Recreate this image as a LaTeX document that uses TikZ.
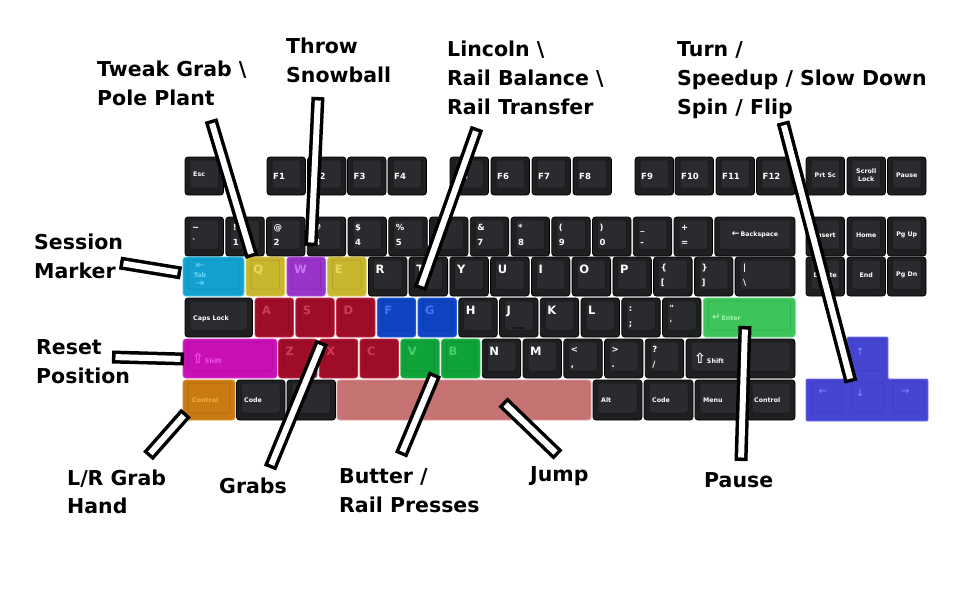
\documentclass[tikz,border=0pt]{standalone}
\usepackage{fontspec}
\setmainfont{DejaVu Sans}
\newfontfamily\arrowfont{DejaVu Sans}
\definecolor{kdark}{HTML}{1E1F21}
\definecolor{kface}{HTML}{2A2B2E}
\definecolor{kfl}{HTML}{161718}
\definecolor{kCya}{HTML}{14A1D0}\definecolor{kCyaE}{HTML}{3CCBF2}\definecolor{kCyaF}{HTML}{0F88B0}\definecolor{kCyaT}{HTML}{6AD8FA}
\definecolor{kYel}{HTML}{C9B62F}\definecolor{kYelE}{HTML}{DCCB4C}\definecolor{kYelF}{HTML}{A89820}\definecolor{kYelT}{HTML}{E8D860}
\definecolor{kPur}{HTML}{9A33C9}\definecolor{kPurE}{HTML}{B458E2}\definecolor{kPurF}{HTML}{7F25A8}\definecolor{kPurT}{HTML}{C676F0}
\definecolor{kRed}{HTML}{A00D29}\definecolor{kRedE}{HTML}{C23049}\definecolor{kRedF}{HTML}{850920}\definecolor{kRedT}{HTML}{CE3C55}
\definecolor{kBlu}{HTML}{0E44C2}\definecolor{kBluE}{HTML}{2E63E0}\definecolor{kBluF}{HTML}{0A36A0}\definecolor{kBluT}{HTML}{4276EC}
\definecolor{kGrn}{HTML}{0FA33A}\definecolor{kGrnE}{HTML}{2CC055}\definecolor{kGrnF}{HTML}{0B8A30}\definecolor{kGrnT}{HTML}{4ACE70}
\definecolor{kEnt}{HTML}{3DC45A}\definecolor{kEntE}{HTML}{62E07A}\definecolor{kEntF}{HTML}{30A84C}\definecolor{kEntT}{HTML}{9EF4AC}
\definecolor{kMag}{HTML}{C810B6}\definecolor{kMagE}{HTML}{DD3AD0}\definecolor{kMagF}{HTML}{A80C99}\definecolor{kMagT}{HTML}{F450EC}
\definecolor{kOra}{HTML}{C97A12}\definecolor{kOraE}{HTML}{E0962C}\definecolor{kOraF}{HTML}{A8650E}\definecolor{kOraT}{HTML}{F4AE42}
\definecolor{kSpc}{HTML}{C47272}\definecolor{kSpcE}{HTML}{E89A9A}\definecolor{kSpcF}{HTML}{C47272}
\definecolor{kArr}{HTML}{4545D2}\definecolor{kArrE}{HTML}{7272FF}\definecolor{kArrF}{HTML}{3838B8}\definecolor{kArrT}{HTML}{8C8CFF}
\newcommand\kbscheme[4]{\tikzset{body#1/.style={fill=#2,draw=#3,line width=0.8pt,rounded corners=3pt},
  face#1/.style={fill=#2,draw=#4,line width=0.5pt,rounded corners=2pt}}}
\tikzset{
  bodyD/.style={fill=kdark,draw=black,line width=0.8pt,rounded corners=3pt},
  faceD/.style={fill=kface,draw=kfl,line width=0.5pt,rounded corners=2pt},
  klab/.style={anchor=base west,inner sep=0pt,text=white},
  fL/.style={font=\bfseries\fontsize{11.5}{12}\selectfont},
  fN/.style={font=\bfseries\fontsize{8.5}{9}\selectfont},
  fS/.style={font=\bfseries\fontsize{6.3}{7.3}\selectfont},
  fA/.style={font=\arrowfont\fontsize{10}{10}\selectfont},
  big/.style={anchor=base west,inner sep=0pt,font=\bfseries\fontsize{20.5}{24}\selectfont},
  barout/.style={line width=13pt,black},
  barin/.style={line width=6pt,white,shorten <=3.5pt,shorten >=3.5pt}
}
\kbscheme{Cya}{kCya}{kCyaE}{kCyaF}
\kbscheme{Yel}{kYel}{kYelE}{kYelF}
\kbscheme{Pur}{kPur}{kPurE}{kPurF}
\kbscheme{Red}{kRed}{kRedE}{kRedF}
\kbscheme{Blu}{kBlu}{kBluE}{kBluF}
\kbscheme{Grn}{kGrn}{kGrnE}{kGrnF}
\kbscheme{Ent}{kEnt}{kEntE}{kEntF}
\kbscheme{Mag}{kMag}{kMagE}{kMagF}
\kbscheme{Ora}{kOra}{kOraE}{kOraF}
\kbscheme{Spc}{kSpc}{kSpcE}{kSpcF}
\kbscheme{Arr}{kArr}{kArrE}{kArrF}
\newcount\kcnt
\newcommand\lab[4][]{\global\advance\kcnt by 1\relax
  \edef\knm{kl\the\kcnt}\node[klab,#1] (\knm) at (#2,#3) {#4};}
\newcommand\kw[5]{\path[body#5] (#1,#2) rectangle ++(#3,#4);
  \path[face#5] ({#1+5},{#2+3}) rectangle ++({#3-10},{#4-10});}
\newcommand\fkey[2]{\kw{#1}{157}{38.5}{38}{D}\lab[fN]{#1+6}{179}{#2}}
\newcommand\nkey[3]{\kw{#1}{217}{38.5}{39}{D}\lab[fN]{#1+7}{230}{#2}\lab[fN]{#1+7}{245}{#3}}
\newcommand\skey[4]{\kw{#1}{#2}{38.5}{39}{D}\lab[fN]{#1+7}{#2+13}{#3}\lab[fN]{#1+7}{#2+28}{#4}}
\newcommand\lkey[5]{\kw{#1}{#2}{38.5}{39}{#4}\lab[fL,text=#5]{#1+7}{#2+16}{#3}}
\newcommand\ckey[3]{\kw{#1}{#2}{38.5}{39}{D}\lab[fS,anchor=center]{#1+19.25}{#2+18}{#3}}
\begin{document}
\begin{tikzpicture}[x=1pt,y=-1pt]
\useasboundingbox[fill=white] (0,0) rectangle (969,611);
% ---------- function row
\kw{185}{157}{38.5}{38}{D}\lab[fS]{193}{176}{Esc}
\fkey{267}{F1}\fkey{307.5}{F2}\fkey{347.5}{F3}\fkey{388}{F4}
\fkey{450}{F5}\fkey{491}{F6}\fkey{532}{F7}\fkey{573}{F8}
\fkey{635}{F9}\fkey{675}{F10}\fkey{716}{F11}\fkey{756.5}{F12}
\kw{806}{157}{38.5}{38}{D}\lab[fS,anchor=center]{825.25}{175}{Prt Sc}
\kw{847}{157}{38.5}{38}{D}\lab[fS,anchor=center,align=center]{866.25}{175}{Scroll\\Lock}
\kw{887.5}{157}{38.5}{38}{D}\lab[fS,anchor=center]{906.75}{175}{Pause}
% ---------- number row
\nkey{185}{\textasciitilde}{\textasciigrave}
\nkey{225.75}{!}{1}
\nkey{266.5}{@}{2}
\nkey{307.25}{\#}{3}
\nkey{348}{\$}{4}
\nkey{388.75}{\%}{5}
\nkey{429.5}{\textasciicircum}{6}
\nkey{470.25}{\&}{7}
\nkey{511}{*}{8}
\nkey{551.75}{(}{9}
\nkey{592.5}{)}{0}
\nkey{633.25}{\_}{-}
\nkey{674}{+}{=}
\kw{714.75}{217}{80.25}{39}{D}\lab[fS,anchor=center]{755}{235}{{\arrowfont\bfseries\fontsize{9}{9}\selectfont ←}\,Backspace}
\ckey{806}{217}{Insert}
\ckey{847}{217}{Home}
\ckey{887.5}{217}{Pg Up}
% ---------- tab row
\kw{183}{257}{61}{39}{Cya}
\lab[fA,anchor=center,text=kCyaT]{200}{266}{⇤}
\lab[fS,anchor=center,text=kCyaT]{200}{275}{Tab}
\lab[fA,anchor=center,text=kCyaT]{200}{284}{⇥}
\lkey{246.1}{257}{Q}{Yel}{kYelT}
\lkey{286.9}{257}{W}{Pur}{kPurT}
\lkey{327.6}{257}{E}{Yel}{kYelT}
\lkey{368.4}{257}{R}{D}{white}
\lkey{409.1}{257}{T}{D}{white}
\lkey{449.9}{257}{Y}{D}{white}
\lkey{490.6}{257}{U}{D}{white}
\lkey{531.4}{257}{I}{D}{white}
\lkey{572.1}{257}{O}{D}{white}
\lkey{612.9}{257}{P}{D}{white}
\skey{653.6}{257}{\{}{[}
\skey{694.4}{257}{\}}{]}
\kw{735.1}{257}{59.9}{39}{D}\lab[fN]{743}{270}{|}\lab[fN]{743}{285}{\textbackslash}
\ckey{806}{257}{Delete}
\ckey{847}{257}{End}
\ckey{887.5}{257}{Pg Dn}
% ---------- caps row
\kw{185}{298}{67.5}{39}{D}\lab[fS]{193}{320}{Caps Lock}
\lkey{255}{298}{A}{Red}{kRedT}
\lkey{295.75}{298}{S}{Red}{kRedT}
\lkey{336.5}{298}{D}{Red}{kRedT}
\lkey{377.25}{298}{F}{Blu}{kBluT}
\lkey{418}{298}{G}{Blu}{kBluT}
\lkey{458.75}{298}{H}{D}{white}
\lkey{499.5}{298}{J}{D}{white}
\draw[kfl,line width=1.6pt] (513,328) -- (525,328);
\lkey{540.25}{298}{K}{D}{white}
\lkey{581}{298}{L}{D}{white}
\skey{621.75}{298}{:}{;}
\skey{662.5}{298}{\textquotedbl}{\textquotesingle}
\kw{703.25}{298}{92}{39}{Ent}\lab[fS,text=kEntT]{712}{320}{{\arrowfont\fontsize{10}{10}\selectfont ↵}\,Enter}
% ---------- shift row
\kw{183}{339}{94}{39}{Mag}\lab[fS,text=kMagT]{192}{363}{{\arrowfont\fontsize{14}{14}\selectfont ⇧}\,Shift}
\lkey{278.5}{339}{Z}{Red}{kRedT}
\lkey{319.25}{339}{X}{Red}{kRedT}
\lkey{360}{339}{C}{Red}{kRedT}
\lkey{400.75}{339}{V}{Grn}{kGrnT}
\lkey{441.5}{339}{B}{Grn}{kGrnT}
\lkey{482.25}{339}{N}{D}{white}
\lkey{523}{339}{M}{D}{white}
\skey{563.75}{339}{<}{,}
\skey{604.5}{339}{>}{.}
\skey{645.25}{339}{?}{/}
\kw{686}{339}{109}{39}{D}\lab[fS]{694}{363}{{\arrowfont\fontsize{14}{14}\selectfont ⇧}\,Shift}
% ---------- bottom row
\kw{183}{380}{52}{40}{Ora}\lab[fS,text=kOraT]{192}{402}{Control}
\kw{236.5}{380}{48.5}{40}{D}\lab[fS]{244}{402}{Code}
\kw{287}{380}{48.5}{40}{D}
\path[bodySpc] (337,380) rectangle (591,420);
\kw{593}{380}{49}{40}{D}\lab[fS]{601}{402}{Alt}
\kw{644}{380}{49}{40}{D}\lab[fS]{652}{402}{Code}
\kw{695}{380}{51}{40}{D}\lab[fS]{703}{402}{Menu}
\kw{747}{380}{48}{40}{D}\lab[fS]{754}{402}{Control}
% ---------- arrow cluster
\path[bodyArr,rounded corners=1pt] (847,337) -- (888,337) -- (888,379) -- (928,379) -- (928,421) -- (806,421) -- (806,379) -- (847,379) -- cycle;
\path[faceArr] (852,340) rectangle ++(31,30);
\path[faceArr] (811,382) rectangle ++(31,30);
\path[faceArr] (852,382) rectangle ++(31,30);
\path[faceArr] (893,382) rectangle ++(31,30);
\lab[fA,anchor=center,text=kArrT]{860}{352}{↑}
\lab[fA,anchor=center,text=kArrT]{823}{392}{←}
\lab[fA,anchor=center,text=kArrT]{860}{393}{↓}
\lab[fA,anchor=center,text=kArrT]{905}{392}{→}
% ---------- pointer bars
\coordinate (twA) at (211,120); \coordinate (twB) at (252,257);
\coordinate (thA) at (318,97);  \coordinate (thB) at (311,246);
\coordinate (liA) at (477,128); \coordinate (liB) at (420,289);
\coordinate (tuA) at (783,122); \coordinate (tuB) at (851,382);
\coordinate (seA) at (120,263); \coordinate (seB) at (181,273);
\coordinate (reA) at (112,357); \coordinate (reB) at (184,359);
\coordinate (lrA) at (148,456); \coordinate (lrB) at (186,413);
\coordinate (grA) at (270,468); \coordinate (grB) at (322,342);
\coordinate (buA) at (401,455); \coordinate (buB) at (435,374);
\coordinate (juA) at (558,455); \coordinate (juB) at (503,402);
\coordinate (paA) at (741,461); \coordinate (paB) at (745,326);
\foreach \p in {tw,th,li,tu,se,re,lr,gr,bu,ju,pa}{
  \draw[barout] (\p A) -- (\p B);
  \draw[barin] (\p A) -- (\p B);
}
% ---------- labels
\node[big] (tw1) at (97,76) {Tweak Grab \textbackslash};
\node[big] (tw2) at (97,105) {Pole Plant};
\node[big] (th1) at (286,53) {Throw};
\node[big] (th2) at (286,82) {Snowball};
\node[big] (li1) at (447,56) {Lincoln \textbackslash};
\node[big] (li2) at (447,85) {Rail Balance \textbackslash};
\node[big] (li3) at (447,114) {Rail Transfer};
\node[big] (tu1) at (677,56) {Turn /};
\node[big] (tu2) at (677,85) {Speedup / Slow Down};
\node[big] (tu3) at (677,114) {Spin / Flip};
\node[big] (se1) at (34,249) {Session};
\node[big] (se2) at (34,278) {Marker};
\node[big] (re1) at (36,354) {Reset};
\node[big] (re2) at (36,383) {Position};
\node[big] (lr1) at (67,485) {L/R Grab};
\node[big] (lr2) at (67,513) {Hand};
\node[big] (gr1) at (219,493) {Grabs};
\node[big] (bu1) at (339,483) {Butter /};
\node[big] (bu2) at (339,512) {Rail Presses};
\node[big] (ju1) at (530,481) {Jump};
\node[big] (pa1) at (704,487) {Pause};
\end{tikzpicture}
\end{document}
